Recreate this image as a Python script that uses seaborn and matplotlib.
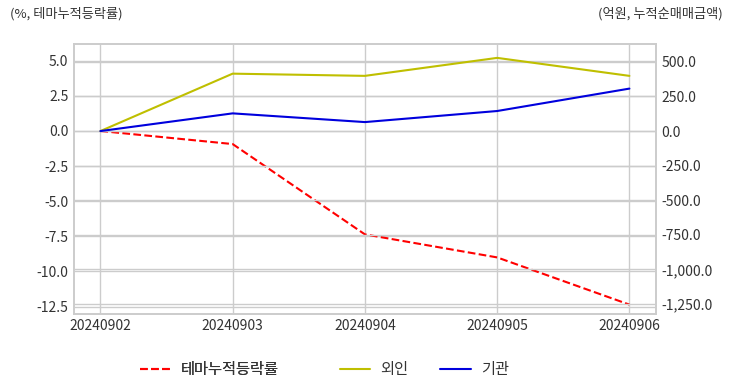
import pandas as pd
import matplotlib.pyplot as plt
import matplotlib.ticker as mticker
import seaborn as sns

# --- data ---
dates = ["20240902", "20240903", "20240904", "20240905", "20240906"]
theme_cum_rate = [0.0, -0.93, -7.36, -9.0, -12.36]   # %, 테마누적등락률
foreign_cum = [0.0, 415.0, 399.0, 529.0, 399.0]      # 억원, 외인
inst_cum = [0.0, 128.0, 65.0, 145.0, 307.0]          # 억원, 기관

df = pd.DataFrame({
    "date": dates,
    "theme": theme_cum_rate,
    "foreign": foreign_cum,
    "inst": inst_cum,
})
df["x"] = range(len(df))

sns.set_style("whitegrid")
plt.rcParams["font.family"] = ["Noto Sans CJK KR", "DejaVu Sans"]
plt.rcParams["axes.unicode_minus"] = False

fig, ax = plt.subplots(figsize=(7.32, 3.92), dpi=100)
fig.subplots_adjust(left=0.101, right=0.896, top=0.888, bottom=0.2)
ax2 = ax.twinx()

grid_kw = dict(color="#cccccc", linewidth=1.0)

sns.lineplot(data=df, x="x", y="theme", ax=ax, color="red",
             linestyle="--", linewidth=1.5, label="테마누적등락률", legend=False)
sns.lineplot(data=df, x="x", y="foreign", ax=ax2, color="#bfbf00",
             linewidth=1.5, label="외인", legend=False)
sns.lineplot(data=df, x="x", y="inst", ax=ax2, color="#0000dd",
             linewidth=1.5, label="기관", legend=False)

# --- axes ---
ax.set_xlim(-0.2, 4.2)
ax.set_ylim(-13.0, 6.2)
ax2.set_ylim(-1319, 630)
ax.set_xticks(df["x"])
ax.set_xticklabels(dates)
ax.set_yticks([5.0, 2.5, 0.0, -2.5, -5.0, -7.5, -10.0, -12.5])
ax.yaxis.set_major_formatter(mticker.FormatStrFormatter("%.1f"))
ax2.set_yticks([500, 250, 0, -250, -500, -750, -1000, -1250])
ax2.yaxis.set_major_formatter(mticker.FuncFormatter(lambda v, p: f"{v:,.1f}"))
ax.set_xlabel("")
ax.set_ylabel("")
ax2.set_ylabel("")

ax.grid(True, **grid_kw)
ax2.grid(True, axis="y", **grid_kw)
ax2.grid(False, axis="x")
for a in (ax, ax2):
    for s in a.spines.values():
        s.set_color("#cccccc")
        s.set_linewidth(1.2)
    a.tick_params(labelsize=10, colors="#333333", length=0, pad=4)

# --- axis titles ---
fig.text(0.013, 0.955, "(%, 테마누적등락률)", fontsize=9.5, color="#333333", ha="left")
fig.text(0.987, 0.955, "(억원, 누적순매매금액)", fontsize=9.5, color="#333333", ha="right")

# --- legend (two pieces to match entry spacing) ---
h1, lab1 = ax.get_legend_handles_labels()
h2, lab2 = ax2.get_legend_handles_labels()
leg_kw = dict(loc="center left", frameon=False, fontsize=11, handlelength=2.0,
              handletextpad=0.65, borderpad=0, borderaxespad=0,
              labelcolor="#333333")
leg1 = fig.legend(h1, lab1, bbox_to_anchor=(0.191, 0.057), **leg_kw)
fig.add_artist(leg1)
fig.legend(h2, lab2, bbox_to_anchor=(0.464, 0.057), ncol=2,
           columnspacing=2.1, **leg_kw)

plt.savefig("out.png", dpi=100)
